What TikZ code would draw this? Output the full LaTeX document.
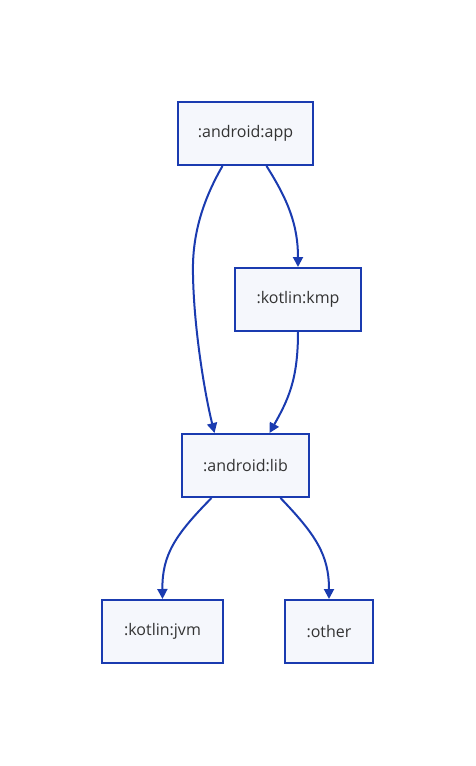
\documentclass[tikz,border=0pt]{standalone}
\usepackage{fontspec}
\setmainfont{Open Sans}
\usetikzlibrary{arrows.meta}
\definecolor{edgeblue}{HTML}{1A3BB0}
\definecolor{boxfill}{HTML}{F5F7FC}
\definecolor{textgray}{HTML}{333333}
\tikzset{
  >={Triangle[length=10pt,width=10pt]},
  module/.style={draw=edgeblue, fill=boxfill, line width=2pt, minimum height=63pt,
    text=textgray, font=\fontsize{16}{19}\selectfont, inner sep=0pt},
  dep/.style={->, draw=edgeblue, line width=2pt}
}
\begin{document}
\begin{tikzpicture}[x=1pt,y=-1pt]
  \useasboundingbox (0,0) rectangle (475,766);

  \node[module,minimum width=135pt] (app) at (245.5,133.5) {:android:app};
  \node[module,minimum width=126pt] (kmp) at (298,299.5) {:kotlin:kmp};
  \node[module,minimum width=127pt] (lib) at (245.5,465.5) {:android:lib};
  \node[module,minimum width=121pt] (jvm) at (162.5,631.5) {:kotlin:jvm};
  \node[module,minimum width=88pt] (other) at (329,631.5) {:other};

  % app depends on lib and kmp
  \draw[dep] ([xshift=-23pt]app.south) .. controls (200,205) and (192,240) .. (193,275)
    .. controls (194,330) and (205,395) .. ([xshift=-31pt]lib.north);
  \draw[dep] ([xshift=21pt]app.south) .. controls (288,200) and (298,225) .. (kmp.north);
  \draw[dep] (kmp.south) .. controls (298,380) and (288,400) .. ([xshift=24pt]lib.north);
  % lib depends on jvm and other
  \draw[dep] ([xshift=-34pt]lib.south) .. controls (175,535) and (162,555) .. (jvm.north);
  \draw[dep] ([xshift=35pt]lib.south) .. controls (316,535) and (329,555) .. (other.north);
\end{tikzpicture}
\end{document}
